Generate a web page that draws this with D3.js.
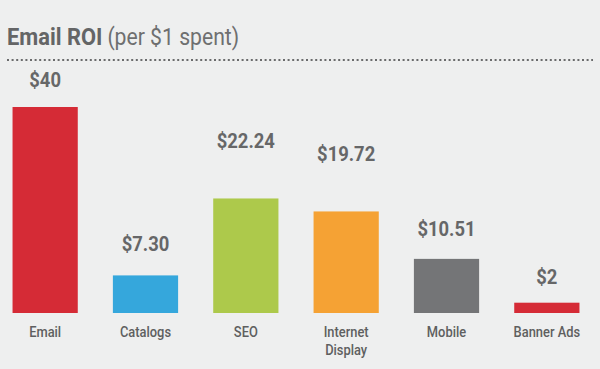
<!DOCTYPE html>
<html>
<head>
<meta charset="utf-8">
<script src="https://cdn.jsdelivr.net/npm/d3@7"></script>
<style>
  html, body { margin: 0; padding: 0; background: #eeefef; }
  svg { display: block; }
</style>
</head>
<body>
<div id="chart"></div>
<script>
// data
const categories = ["Email", "Catalogs", "SEO", "Internet\nDisplay", "Mobile", "Banner Ads"];
const values = [40, 7.30, 22.24, 19.72, 10.51, 2];
const valueLabels = ["$40", "$7.30", "$22.24", "$19.72", "$10.51", "$2"];
const barColors = ["#d52b36", "#35a7dc", "#adc94b", "#f5a234", "#747577", "#d52b36"];

// distance from the bar top to the value label baseline
const labelGap = [20, 24, 50, 50, 23, 19];

const width = 600;
const height = 369;
const font = "Roboto, 'DejaVu Sans Condensed', sans-serif";

const svg = d3.select("#chart").append("svg")
  .attr("width", width)
  .attr("height", height)
  .attr("xmlns", "http://www.w3.org/2000/svg");

svg.append("rect")
  .attr("width", width)
  .attr("height", height)
  .attr("fill", "#eeefef");

// squeeze text horizontally to look like the condensed face of the original
function condense(sel, k) {
  sel.each(function () {
    const len = this.getComputedTextLength();
    d3.select(this)
      .attr("textLength", len * k)
      .attr("lengthAdjust", "spacingAndGlyphs");
  });
}

// title
const title = svg.append("text")
  .attr("x", 7)
  .attr("y", 45)
  .attr("font-family", font)
  .attr("font-size", "23.5px")
  .attr("fill", "#646566");
title.append("tspan").attr("font-weight", "bold").text("Email ROI")
  .call(condense, 0.93);
title.append("tspan").attr("dx", 5).attr("fill", "#6e6f70").text("(per $1 spent)")
  .call(condense, 0.9);

svg.append("line")
  .attr("x1", 7)
  .attr("x2", 593)
  .attr("y1", 60)
  .attr("y2", 60)
  .attr("stroke", "#6a6b6c")
  .attr("stroke-width", 2)
  .attr("stroke-dasharray", "2,2.6");

const x = d3.scaleBand()
  .domain(categories)
  .range([0, 592])
  .paddingInner(0.35)
  .paddingOuter(0.125);

const y = d3.scaleLinear()
  .domain([0, 40])
  .range([313, 107]);

const rows = categories.map((c, i) => ({ cat: c, value: values[i], label: valueLabels[i], color: barColors[i], gap: labelGap[i] }));

svg.selectAll("rect.bar")
  .data(rows)
  .enter()
  .append("rect")
  .attr("class", "bar")
  .attr("x", (d) => x(d.cat))
  .attr("y", (d) => y(d.value))
  .attr("width", x.bandwidth())
  .attr("height", (d) => y(0) - y(d.value))
  .attr("fill", (d) => d.color);

svg.selectAll("text.value")
  .data(rows)
  .enter()
  .append("text")
  .attr("class", "value")
  .attr("x", (d) => x(d.cat) + x.bandwidth() / 2)
  .attr("y", (d) => y(d.value) - d.gap)
  .attr("text-anchor", "middle")
  .attr("font-family", font)
  .attr("font-weight", "bold")
  .attr("font-size", "20px")
  .attr("fill", "#666768")
  .text((d) => d.label)
  .call(condense, 0.92);

const catText = svg.selectAll("text.cat")
  .data(rows)
  .enter()
  .append("text")
  .attr("class", "cat")
  .attr("x", (d) => x(d.cat) + x.bandwidth() / 2)
  .attr("y", 337)
  .attr("text-anchor", "middle")
  .attr("font-family", font)
  .attr("font-weight", 500)
  .attr("font-size", "14px")
  .attr("fill", "#5e5f60");

catText.selectAll("tspan")
  .data((d) => d.cat.split("\n").map((t) => ({ t, cx: x(d.cat) + x.bandwidth() / 2 })))
  .enter()
  .append("tspan")
  .attr("x", (d) => d.cx)
  .attr("dy", (d, i) => i === 0 ? 0 : 18)
  .text((d) => d.t)
  .call(condense, 0.92);
</script>
</body>
</html>
